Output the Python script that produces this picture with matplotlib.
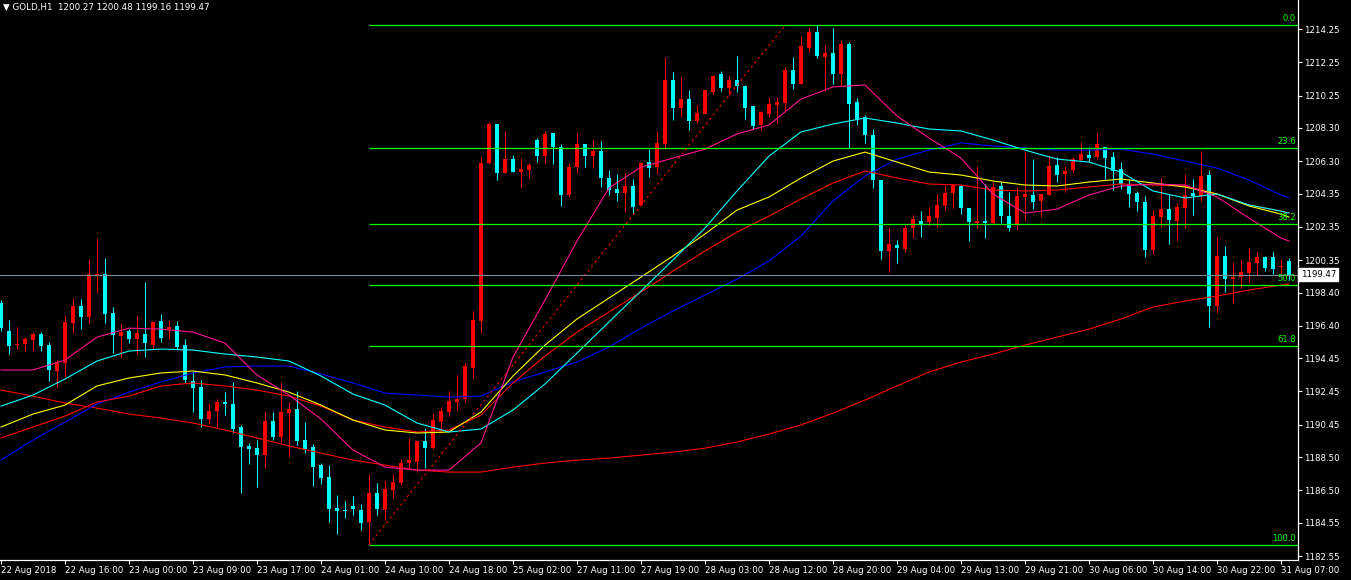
import matplotlib
matplotlib.use("Agg")
import matplotlib.pyplot as plt
import matplotlib.transforms as mtransforms
import numpy as np

# GOLD H1 bars, 22 Aug 2018 08:00 .. 31 Aug 08:00
opens = [1197.77, 1196.08, 1195.24, 1195.30, 1195.54, 1195.90, 1195.24, 1193.68, 1194.16, 1196.57,
         1197.59, 1196.93, 1199.45, 1199.51, 1197.17, 1195.78, 1196.08, 1195.60, 1195.90, 1195.24,
         1196.69, 1196.20, 1196.38, 1195.24, 1193.08, 1192.71, 1190.79, 1191.27, 1191.81, 1191.69,
         1190.31, 1189.16, 1189.04, 1188.62, 1190.67, 1189.71, 1191.15, 1191.39, 1189.53, 1189.10,
         1188.02, 1187.30, 1185.43, 1185.31, 1185.55, 1185.31, 1184.59, 1186.34, 1185.31, 1186.52,
         1186.94, 1188.14, 1188.20, 1189.47, 1189.04, 1190.61, 1191.21, 1191.81, 1191.99, 1193.86,
         1196.69, 1206.19, 1208.54, 1205.59, 1206.43, 1205.65, 1205.77, 1207.58, 1206.61, 1208.00,
         1207.16, 1204.27, 1205.95, 1207.34, 1206.61, 1206.91, 1205.29, 1204.63, 1204.39, 1204.81,
         1203.67, 1206.25, 1205.95, 1207.34, 1211.19, 1209.50, 1210.04, 1208.72, 1209.14, 1210.46,
         1211.55, 1210.71, 1211.19, 1210.83, 1209.62, 1208.48, 1209.14, 1209.68, 1209.80, 1211.79,
         1210.95, 1213.11, 1214.07, 1212.57, 1212.81, 1211.55, 1213.35, 1209.86, 1208.96, 1207.88,
         1205.17, 1200.90, 1201.26, 1201.02, 1202.28, 1202.70, 1202.64, 1202.88, 1203.61, 1204.39,
         1204.81, 1203.48, 1202.58, 1202.70, 1202.58, 1204.81, 1203.00, 1202.46, 1204.15, 1204.27,
         1203.91, 1204.27, 1206.07, 1205.53, 1205.77, 1206.37, 1206.67, 1206.55, 1207.16, 1206.55,
         1205.83, 1204.93, 1204.39, 1203.85, 1200.96, 1202.94, 1203.42, 1202.70, 1203.48, 1204.39,
         1204.21, 1205.47, 1197.59, 1200.60, 1199.21, 1199.33, 1199.57, 1200.18, 1200.54, 1200.54,
         1199.93, 1200.27]
highs = [1197.95, 1196.75, 1196.32, 1195.72, 1196.02, 1196.02, 1195.42, 1194.34, 1197.05, 1198.07,
         1198.01, 1200.42, 1201.68, 1200.48, 1197.53, 1196.51, 1196.20, 1196.99, 1199.03, 1196.69,
         1197.11, 1196.75, 1196.69, 1195.60, 1193.68, 1193.14, 1191.75, 1191.99, 1192.41, 1193.02,
         1190.43, 1189.35, 1189.53, 1191.21, 1191.21, 1193.02, 1191.81, 1192.47, 1190.61, 1189.29,
         1188.14, 1188.02, 1186.22, 1185.86, 1186.16, 1185.67, 1187.48, 1186.94, 1187.12, 1187.48,
         1188.38, 1189.65, 1189.47, 1190.25, 1191.15, 1191.51, 1192.47, 1193.44, 1194.16, 1197.29,
         1206.55, 1208.66, 1208.54, 1208.12, 1206.67, 1206.49, 1206.19, 1207.70, 1208.12, 1208.00,
         1207.34, 1206.19, 1208.00, 1207.34, 1207.58, 1207.52, 1205.77, 1205.53, 1205.59, 1205.23,
         1206.25, 1207.03, 1208.12, 1212.57, 1211.67, 1211.37, 1210.58, 1209.68, 1210.58, 1211.49,
         1211.73, 1211.43, 1212.63, 1210.89, 1209.62, 1209.32, 1210.16, 1210.16, 1211.97, 1212.57,
         1213.83, 1214.32, 1214.47, 1213.29, 1214.32, 1213.59, 1213.47, 1210.10, 1209.08, 1208.24,
         1205.17, 1202.28, 1201.56, 1202.46, 1203.06, 1203.30, 1203.55, 1204.33, 1204.87, 1204.93,
         1204.81, 1203.48, 1206.01, 1204.93, 1205.05, 1205.05, 1204.45, 1204.75, 1206.85, 1206.43,
         1204.33, 1206.61, 1206.55, 1206.01, 1206.55, 1207.46, 1207.16, 1208.00, 1207.16, 1206.85,
         1206.25, 1205.23, 1204.51, 1204.21, 1203.36, 1205.29, 1204.33, 1203.79, 1205.53, 1205.23,
         1206.91, 1205.77, 1201.74, 1201.20, 1200.24, 1200.36, 1201.08, 1200.84, 1200.60, 1200.84,
         1200.42, 1200.48]
lows = [1196.08, 1194.70, 1195.00, 1194.88, 1194.88, 1194.88, 1193.08, 1192.71, 1193.32, 1195.96,
        1196.20, 1196.57, 1198.37, 1196.57, 1194.76, 1194.52, 1195.36, 1194.70, 1194.52, 1195.00,
        1195.42, 1195.60, 1195.00, 1192.96, 1191.21, 1190.31, 1190.49, 1190.31, 1191.03, 1189.95,
        1186.34, 1188.08, 1186.70, 1187.84, 1189.53, 1189.41, 1188.50, 1189.23, 1188.74, 1186.76,
        1186.88, 1184.59, 1183.87, 1184.83, 1185.01, 1184.11, 1183.24, 1185.01, 1184.71, 1186.04,
        1186.82, 1187.78, 1187.60, 1187.84, 1188.98, 1189.95, 1190.97, 1191.33, 1191.81, 1193.26,
        1195.96, 1206.13, 1205.17, 1205.59, 1205.65, 1204.75, 1205.29, 1206.25, 1206.19, 1206.13,
        1203.61, 1204.15, 1205.59, 1205.95, 1205.89, 1204.75, 1204.27, 1203.91, 1203.24, 1203.18,
        1203.67, 1205.35, 1205.53, 1207.10, 1208.78, 1208.96, 1208.18, 1208.60, 1209.14, 1210.34,
        1210.52, 1210.28, 1210.46, 1208.84, 1208.24, 1208.18, 1208.96, 1208.60, 1209.32, 1210.65,
        1210.95, 1212.87, 1212.51, 1210.52, 1210.95, 1210.83, 1207.10, 1208.48, 1207.40, 1204.69,
        1200.42, 1199.63, 1200.18, 1200.84, 1201.68, 1201.74, 1202.40, 1202.34, 1203.36, 1203.48,
        1203.12, 1201.50, 1202.28, 1201.68, 1202.52, 1202.58, 1202.10, 1202.16, 1202.70, 1203.42,
        1202.94, 1204.27, 1205.05, 1204.45, 1205.65, 1206.31, 1206.31, 1206.43, 1205.23, 1204.57,
        1204.63, 1203.55, 1203.30, 1200.54, 1200.72, 1202.34, 1201.32, 1201.50, 1202.28, 1203.06,
        1203.91, 1196.32, 1197.17, 1198.43, 1197.77, 1198.67, 1199.03, 1199.45, 1199.69, 1199.51,
        1199.51, 1199.16]
closes = [1196.26, 1195.18, 1195.30, 1195.60, 1195.90, 1195.18, 1193.74, 1194.22, 1196.63, 1197.59,
          1196.93, 1199.51, 1199.51, 1197.11, 1195.84, 1196.02, 1195.60, 1195.96, 1195.36, 1196.63,
          1195.66, 1196.32, 1195.12, 1193.14, 1192.65, 1190.79, 1191.27, 1191.81, 1191.69, 1190.19,
          1189.10, 1188.98, 1188.62, 1190.67, 1189.71, 1191.21, 1191.39, 1189.47, 1188.98, 1187.90,
          1187.24, 1185.37, 1185.25, 1185.25, 1185.37, 1184.53, 1186.34, 1185.37, 1186.58, 1187.00,
          1188.14, 1188.32, 1189.47, 1189.04, 1190.73, 1191.27, 1191.87, 1191.99, 1193.98, 1196.75,
          1206.19, 1208.54, 1205.59, 1206.43, 1205.65, 1205.83, 1206.07, 1206.61, 1207.94, 1207.16,
          1204.27, 1205.95, 1207.34, 1206.61, 1206.91, 1205.29, 1204.57, 1204.39, 1204.81, 1203.55,
          1206.19, 1205.89, 1207.40, 1211.19, 1209.50, 1210.04, 1208.72, 1209.20, 1210.58, 1211.43,
          1210.71, 1211.19, 1210.83, 1209.50, 1208.42, 1209.26, 1209.74, 1209.86, 1211.79, 1210.95,
          1213.23, 1214.07, 1212.63, 1212.81, 1211.55, 1213.35, 1209.74, 1208.78, 1207.88, 1205.17,
          1200.90, 1201.32, 1201.08, 1202.28, 1202.82, 1202.52, 1203.00, 1203.67, 1204.39, 1204.87,
          1203.48, 1202.64, 1202.70, 1202.58, 1204.75, 1203.00, 1202.28, 1204.21, 1204.33, 1203.85,
          1204.33, 1206.01, 1205.47, 1205.71, 1206.43, 1206.73, 1206.49, 1207.34, 1206.49, 1205.71,
          1204.93, 1204.33, 1203.85, 1200.96, 1203.00, 1203.42, 1202.76, 1203.55, 1204.27, 1204.21,
          1205.41, 1197.59, 1200.60, 1199.21, 1199.33, 1199.63, 1200.24, 1200.54, 1199.87, 1199.81,
          1199.99, 1199.47]

time_labels = ["22 Aug 2018", "22 Aug 16:00", "23 Aug 00:00", "23 Aug 09:00", "23 Aug 17:00",
               "24 Aug 01:00", "24 Aug 10:00", "24 Aug 18:00", "25 Aug 02:00", "27 Aug 11:00",
               "27 Aug 19:00", "28 Aug 03:00", "28 Aug 12:00", "28 Aug 20:00", "29 Aug 04:00",
               "29 Aug 13:00", "29 Aug 21:00", "30 Aug 06:00", "30 Aug 14:00", "30 Aug 22:00",
               "31 Aug 07:00"]
time_label_bars = list(range(0, 161, 8))

price_ticks = [1214.25, 1212.25, 1210.25, 1208.30, 1206.30, 1204.35, 1202.35, 1200.35, 1198.40,
               1196.40, 1194.45, 1192.45, 1190.45, 1188.50, 1186.50, 1184.55, 1182.55]

# moving averages, read every 4 bars
ma_bars = list(range(0, 161, 4)) + [161]
ma_pink = [1193.74, 1193.74, 1194.34, 1195.72, 1196.26, 1196.20, 1196.02, 1195.36, 1193.44, 1192.23,
           1190.79, 1188.92, 1187.90, 1187.72, 1187.72, 1189.35, 1194.52, 1197.95, 1201.50, 1204.69,
           1205.95, 1206.49, 1207.03, 1207.94, 1208.48, 1210.04, 1210.77, 1210.89, 1209.02, 1207.70,
           1206.49, 1204.33, 1203.18, 1203.42, 1204.27, 1204.81, 1204.93, 1204.87, 1204.15, 1202.88,
           1201.68, 1201.50]
ma_cyan = [1191.57, 1192.23, 1193.20, 1194.28, 1194.88, 1195.00, 1194.94, 1194.70, 1194.52, 1194.28,
           1193.38, 1192.29, 1191.63, 1190.55, 1190.01, 1190.19, 1191.33, 1192.90, 1194.76, 1196.63,
           1198.49, 1200.36, 1202.28, 1204.51, 1206.61, 1208.06, 1208.54, 1208.90, 1208.60, 1208.24,
           1208.12, 1207.58, 1206.97, 1206.43, 1206.25, 1205.65, 1204.51, 1204.09, 1204.33, 1203.67,
           1203.30, 1203.18]
ma_yellow = [1190.31, 1191.09, 1191.63, 1192.78, 1193.26, 1193.56, 1193.68, 1193.44, 1192.96, 1192.41,
             1191.63, 1190.73, 1190.13, 1189.95, 1190.01, 1191.21, 1193.38, 1195.24, 1196.81, 1198.07,
             1199.33, 1200.60, 1201.92, 1203.36, 1204.15, 1205.29, 1206.31, 1206.85, 1206.25, 1205.65,
             1205.47, 1205.11, 1204.87, 1204.81, 1205.05, 1205.23, 1204.99, 1204.75, 1204.33, 1203.61,
             1203.12, 1202.94]
ma_red = [1189.65, 1190.31, 1190.97, 1191.81, 1192.17, 1192.78, 1192.96, 1192.78, 1192.53, 1192.17,
          1191.57, 1190.73, 1190.31, 1190.01, 1190.13, 1191.03, 1192.96, 1194.58, 1196.02, 1197.23,
          1198.43, 1199.69, 1200.90, 1202.04, 1203.00, 1204.03, 1204.99, 1205.71, 1205.29, 1204.93,
          1204.87, 1204.57, 1204.51, 1204.57, 1204.75, 1204.93, 1204.87, 1204.81, 1204.33, 1203.67,
          1203.30, 1203.18]
ma_blue = [1188.32, 1189.53, 1190.61, 1191.69, 1192.41, 1193.02, 1193.56, 1193.92, 1193.98, 1193.98,
           1193.50, 1192.96, 1192.35, 1192.23, 1192.11, 1192.17, 1193.02, 1193.62, 1194.22, 1195.12,
           1196.26, 1197.29, 1198.25, 1199.21, 1200.30, 1201.80, 1203.91, 1205.41, 1206.43, 1206.97,
           1207.40, 1207.22, 1207.10, 1206.97, 1206.97, 1207.03, 1206.73, 1206.31, 1205.89, 1205.17,
           1204.27, 1204.09]
ma_slow = [1192.53, 1192.17, 1191.75, 1191.45, 1191.09, 1190.85, 1190.55, 1190.13, 1189.65, 1189.17,
           1188.74, 1188.32, 1188.02, 1187.72, 1187.60, 1187.60, 1187.90, 1188.14, 1188.32, 1188.44,
           1188.62, 1188.80, 1189.04, 1189.41, 1189.89, 1190.43, 1191.15, 1191.93, 1192.78, 1193.62,
           1194.22, 1194.70, 1195.24, 1195.72, 1196.20, 1196.81, 1197.53, 1197.89, 1198.19, 1198.55,
           1198.85, 1198.91]

fib_high = 1214.47
fib_low = 1183.24
fib_levels = [0.0, 23.6, 38.2, 50.0, 61.8, 100.0]
fib_start_bar = 46
fib_end_bar = 98
bid = 1199.47

BULL = "#FF0000"
BEAR = "#00FFFF"
GREEN = "#00FF00"

fig = plt.figure(figsize=(13.51, 5.80), dpi=100, facecolor="black")
ax = fig.add_axes([0, 20 / 580, 1298 / 1351, 560 / 580], facecolor="black")

o = np.array(opens)
c = np.array(closes)
x = np.arange(len(o))
cols = np.where(c >= o, BULL, BEAR)

# candles
ax.vlines(x, lows, highs, colors=cols, lw=0.75, zorder=2)
ax.bar(x, np.maximum(np.abs(c - o), 0.06), bottom=np.minimum(o, c), width=0.62,
       color=cols, lw=0, zorder=2)

# moving averages
for vals, col in [(ma_slow, "#FF0000"), (ma_blue, "#0000FF"), (ma_red, "#FF0000"),
                  (ma_yellow, "#FFFF00"), (ma_cyan, "#00FFFF"), (ma_pink, "#FF1493")]:
    ax.plot(ma_bars, vals, color=col, lw=0.8, zorder=3)

xmax = len(o) + 0.125
# fibonacci retracement
for lev in fib_levels:
    price = fib_high - lev / 100 * (fib_high - fib_low)
    ax.hlines(price, fib_start_bar, xmax, colors=GREEN, lw=0.9, zorder=4)
    ax.text(xmax - 0.3, price + 0.12, f"{lev:.1f}", color=GREEN, fontsize=6,
            ha="right", va="bottom", zorder=5)
ax.plot([fib_start_bar, fib_end_bar], [fib_low, fib_high], color="#FF0000", lw=0.8,
        ls=(0, (2, 3)), zorder=4)

# bid line
ax.axhline(bid, color="#778899", lw=0.8, zorder=4)

ax.set_xlim(-0.125, xmax)
ax.set_ylim(1182.31, 1216.0)

for s in ["top", "left"]:
    ax.spines[s].set_visible(False)
for s in ["right", "bottom"]:
    ax.spines[s].set_color("white")
    ax.spines[s].set_linewidth(0.9)

ax.yaxis.tick_right()
ax.set_yticks(price_ticks)
ax.set_yticklabels([f"{v:.2f}" for v in price_ticks])
ax.set_xticks(time_label_bars)
ax.set_xticklabels(time_labels)
ax.tick_params(colors="white", labelcolor="white", labelsize=6.2, length=3, width=0.8, pad=1.5)
for lab in ax.get_xticklabels():
    lab.set_ha("left")

trans = mtransforms.blended_transform_factory(ax.transAxes, ax.transData)
ax.text(1.002, bid, f"{bid:.2f}", transform=trans, color="black", fontsize=6.2,
        va="center", ha="left", zorder=10, clip_on=False,
        bbox=dict(facecolor="white", edgecolor="white", boxstyle="square,pad=0.25"))

fig.text(3 / 1351, 1 - 7 / 580,
         f"\u25BC GOLD,H1  {opens[-1]:.2f} {highs[-1]:.2f} {lows[-1]:.2f} {closes[-1]:.2f}",
         color="white", fontsize=6.3, va="center", ha="left")

fig.savefig("out.png", dpi=100, facecolor="black")
